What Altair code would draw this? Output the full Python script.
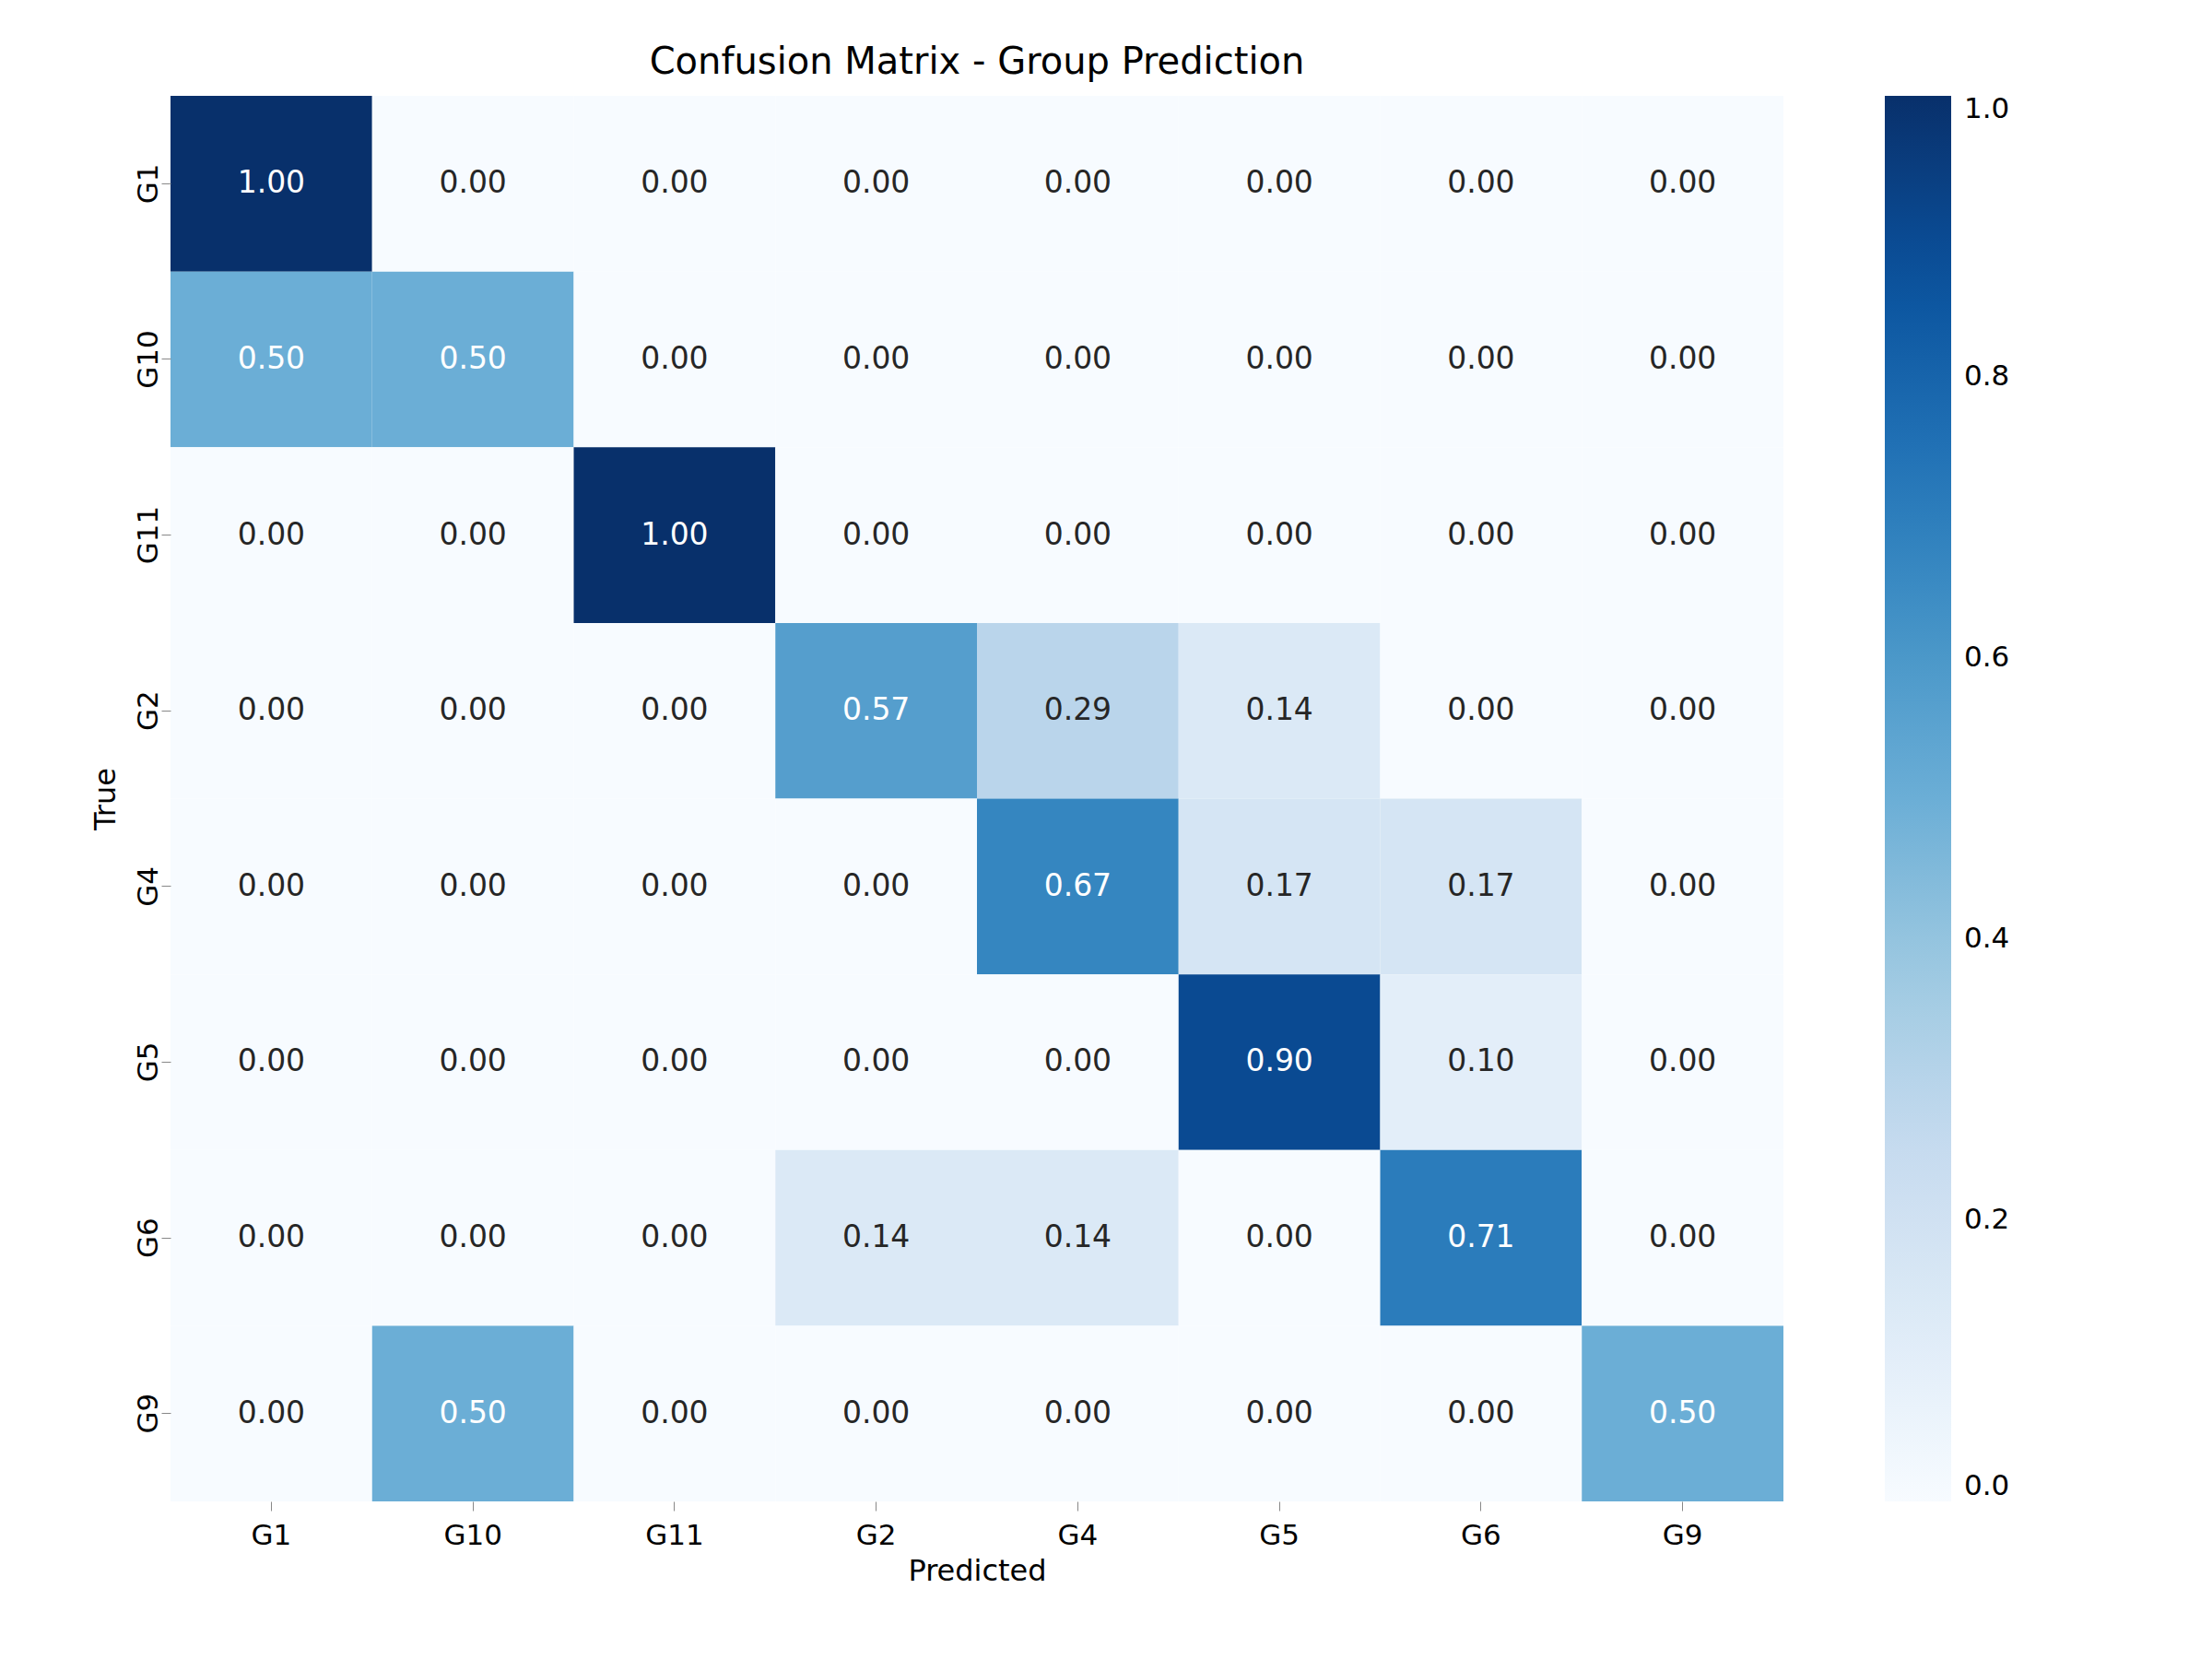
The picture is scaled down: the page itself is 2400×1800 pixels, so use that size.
import altair as alt
import pandas as pd

labels = ["G1", "G10", "G11", "G2", "G4", "G5", "G6", "G9"]
matrix = [
    [1.00, 0.00, 0.00, 0.00, 0.00, 0.00, 0.00, 0.00],
    [0.50, 0.50, 0.00, 0.00, 0.00, 0.00, 0.00, 0.00],
    [0.00, 0.00, 1.00, 0.00, 0.00, 0.00, 0.00, 0.00],
    [0.00, 0.00, 0.00, 0.57, 0.29, 0.14, 0.00, 0.00],
    [0.00, 0.00, 0.00, 0.00, 0.67, 0.17, 0.17, 0.00],
    [0.00, 0.00, 0.00, 0.00, 0.00, 0.90, 0.10, 0.00],
    [0.00, 0.00, 0.00, 0.14, 0.14, 0.00, 0.71, 0.00],
    [0.00, 0.50, 0.00, 0.00, 0.00, 0.00, 0.00, 0.50],
]
blues = ["#f7fbff", "#deebf7", "#c6dbef", "#9ecae1", "#6baed6",
         "#4292c6", "#2171b5", "#08519c", "#08306b"]

rows = []
for i, t in enumerate(labels):
    for j, p in enumerate(labels):
        rows.append({"true": t, "pred": p, "value": matrix[i][j]})
df = pd.DataFrame(rows)

font = "DejaVu Sans"
x = alt.X("pred:N", sort=labels, title="Predicted",
          axis=alt.Axis(labelAngle=0, labelFontSize=31, titleFontSize=32,
                        tickSize=10, domain=False, labelPadding=12, titlePadding=8,
                        titleFontWeight="normal"))
y = alt.Y("true:N", sort=labels, title="True",
          axis=alt.Axis(labelAngle=-90, labelFontSize=31, titleFontSize=32,
                        tickSize=10, domain=False, labelPadding=14, titlePadding=14,
                        labelBaseline="middle", labelAlign="center",
                        titleFontWeight="normal"))

base = alt.Chart(df).encode(x=x, y=y)

rect = base.mark_rect(strokeWidth=0).encode(
    color=alt.Color("value:Q", scale=alt.Scale(range=blues, domain=[0, 1]),
                    legend=alt.Legend(title=None, orient="none", legendX=1860, legendY=0,
                                      gradientLength=1525, gradientThickness=72,
                                      labelFontSize=31, tickCount=6, format=".1f",
                                      gradientStrokeWidth=0, labelOffset=14))
)

text = base.mark_text(fontSize=33, font=font).encode(
    text=alt.Text("value:Q", format=".2f"),
    color=alt.condition("datum.value >= 0.45", alt.value("white"), alt.value("#262626")),
)

chart = (rect + text).properties(
    width=1750, height=1525,
    padding={"left": 90, "top": 40, "right": 20, "bottom": 20},
    title=alt.Title("Confusion Matrix - Group Prediction", fontSize=40,
                    fontWeight="normal", font=font, offset=16),
).configure(font=font).configure_axis(labelColor="black", titleColor="black", labelFont=font, titleFont=font
).configure_legend(labelFont=font).configure_view(stroke=None)

chart.save("out.html", embed_options={"renderer": "svg", "actions": False})
